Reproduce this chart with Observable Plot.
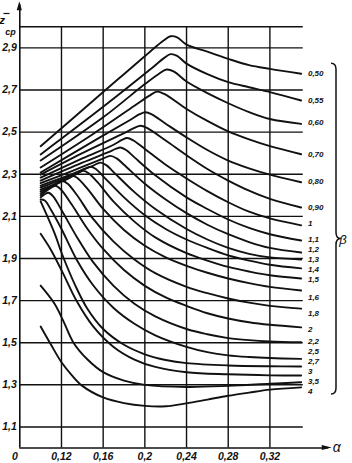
<!DOCTYPE html>
<html><head><meta charset="utf-8">
<script src="https://cdn.jsdelivr.net/npm/d3@7"></script>
<script src="https://cdn.jsdelivr.net/npm/@observablehq/plot@0.6"></script>
<style>html,body{margin:0;padding:0;background:#fff;}</style>
</head><body><div id="chart"></div>
<script>
// β labels (right side), in the same order as the curves below
const betaLabels = ["0,50","0,55","0,60","0,70","0,80","0,90","1","1,1","1,2","1,3","1,4","1,5","1,6","1,8","2","2,2","2,5","2,7","3","3,5","4"];

// curves: [α, z̄ср] points
const c050 = [[0.10,2.433],[0.16,2.69],[0.205,2.882],[0.218,2.935],[0.2246,2.955],[0.231,2.95],[0.24,2.915],[0.26,2.882],[0.28,2.848],[0.30,2.818],[0.32,2.80],[0.35,2.777]];
const c055 = [[0.10,2.394],[0.16,2.62],[0.205,2.797],[0.218,2.85],[0.2246,2.87],[0.231,2.862],[0.24,2.825],[0.26,2.775],[0.28,2.737],[0.30,2.713],[0.32,2.69],[0.35,2.65]];
const c060 = [[0.10,2.365],[0.16,2.57],[0.20,2.728],[0.213,2.775],[0.2208,2.797],[0.228,2.787],[0.24,2.74],[0.26,2.685],[0.28,2.637],[0.30,2.595],[0.32,2.562],[0.35,2.539]];
const c070 = [[0.10,2.332],[0.15,2.49],[0.19,2.625],[0.204,2.672],[0.2118,2.692],[0.219,2.68],[0.24,2.61],[0.26,2.553],[0.28,2.503],[0.30,2.465],[0.32,2.433],[0.35,2.395]];
const c080 = [[0.10,2.308],[0.15,2.455],[0.185,2.555],[0.195,2.585],[0.2006,2.594],[0.207,2.583],[0.22,2.54],[0.24,2.475],[0.26,2.415],[0.28,2.365],[0.30,2.328],[0.32,2.298],[0.35,2.262]];
const c090 = [[0.10,2.298],[0.14,2.40],[0.18,2.495],[0.19,2.52],[0.1958,2.53],[0.202,2.52],[0.22,2.46],[0.24,2.39],[0.26,2.325],[0.28,2.27],[0.30,2.222],[0.32,2.183],[0.35,2.142]];
const c100 = [[0.10,2.284],[0.14,2.375],[0.17,2.44],[0.178,2.463],[0.183,2.472],[0.189,2.46],[0.20,2.42],[0.22,2.345],[0.24,2.28],[0.26,2.22],[0.28,2.167],[0.30,2.122],[0.32,2.09],[0.35,2.057]];
const c110 = [[0.10,2.27],[0.14,2.355],[0.165,2.405],[0.172,2.42],[0.1766,2.427],[0.182,2.415],[0.19,2.38],[0.21,2.295],[0.24,2.19],[0.26,2.135],[0.28,2.085],[0.30,2.045],[0.32,2.015],[0.35,1.985]];
const c120 = [[0.10,2.258],[0.13,2.315],[0.158,2.37],[0.167,2.387],[0.173,2.375],[0.18,2.345],[0.20,2.255],[0.22,2.18],[0.24,2.115],[0.26,2.06],[0.28,2.015],[0.30,1.978],[0.32,1.95],[0.35,1.928]];
const c130 = [[0.10,2.246],[0.13,2.30],[0.15,2.34],[0.1574,2.355],[0.163,2.343],[0.17,2.31],[0.19,2.215],[0.21,2.135],[0.24,2.04],[0.26,1.99],[0.28,1.95],[0.30,1.922],[0.32,1.905],[0.35,1.895]];
const c140 = [[0.10,2.237],[0.125,2.285],[0.142,2.325],[0.148,2.335],[0.153,2.325],[0.16,2.29],[0.18,2.19],[0.20,2.105],[0.22,2.04],[0.24,1.99],[0.26,1.95],[0.28,1.915],[0.30,1.89],[0.32,1.87],[0.35,1.853]];
const c150 = [[0.10,2.227],[0.125,2.275],[0.136,2.305],[0.141,2.316],[0.146,2.305],[0.155,2.26],[0.17,2.17],[0.19,2.075],[0.21,2.0],[0.24,1.925],[0.26,1.89],[0.28,1.86],[0.30,1.838],[0.32,1.82],[0.35,1.805]];
const c160 = [[0.10,2.218],[0.118,2.26],[0.126,2.283],[0.1306,2.292],[0.135,2.283],[0.145,2.23],[0.16,2.135],[0.18,2.035],[0.20,1.96],[0.22,1.905],[0.24,1.865],[0.26,1.832],[0.28,1.805],[0.30,1.783],[0.32,1.765],[0.35,1.748]];
const c180 = [[0.10,2.208],[0.113,2.25],[0.121,2.268],[0.126,2.255],[0.135,2.2],[0.15,2.09],[0.17,1.98],[0.19,1.895],[0.21,1.83],[0.24,1.765],[0.26,1.735],[0.28,1.71],[0.30,1.69],[0.32,1.675],[0.35,1.662]];
const c200 = [[0.10,2.199],[0.109,2.232],[0.1142,2.245],[0.119,2.23],[0.13,2.155],[0.145,2.04],[0.16,1.945],[0.18,1.845],[0.20,1.77],[0.22,1.715],[0.24,1.675],[0.26,1.64],[0.28,1.615],[0.30,1.597],[0.32,1.585],[0.35,1.573]];
const c220 = [[0.10,2.19],[0.104,2.205],[0.1075,2.212],[0.112,2.195],[0.12,2.13],[0.135,2.0],[0.15,1.885],[0.17,1.77],[0.19,1.685],[0.21,1.625],[0.24,1.565],[0.26,1.54],[0.28,1.522],[0.30,1.512],[0.32,1.506],[0.35,1.502]];
const c250 = [[0.10,2.18],[0.104,2.175],[0.11,2.13],[0.12,2.04],[0.135,1.89],[0.15,1.775],[0.17,1.665],[0.19,1.59],[0.21,1.535],[0.24,1.48],[0.26,1.455],[0.28,1.44],[0.30,1.432],[0.32,1.427],[0.35,1.423]];
const c270 = [[0.10,2.171],[0.1135,2.018],[0.1206,1.92],[0.1334,1.77],[0.145,1.66],[0.16,1.565],[0.18,1.49],[0.20,1.445],[0.22,1.418],[0.24,1.403],[0.28,1.392],[0.32,1.388],[0.35,1.387]];
const c300 = [[0.10,2.017],[0.1103,1.937],[0.1215,1.829],[0.1343,1.70],[0.15,1.58],[0.17,1.48],[0.19,1.42],[0.21,1.385],[0.24,1.36],[0.28,1.35],[0.32,1.345],[0.35,1.344]];
const c350 = [[0.10,1.771],[0.1132,1.686],[0.1216,1.605],[0.1315,1.50],[0.145,1.42],[0.16,1.36],[0.18,1.32],[0.20,1.30],[0.24,1.29],[0.28,1.295],[0.32,1.305],[0.35,1.312]];
const c400 = [[0.10,1.577],[0.11,1.49],[0.12,1.407],[0.13,1.345],[0.14,1.295],[0.16,1.24],[0.18,1.213],[0.20,1.20],[0.22,1.198],[0.24,1.212],[0.26,1.23],[0.28,1.248],[0.30,1.263],[0.32,1.277],[0.35,1.288]];
const curves = [c050,c055,c060,c070,c080,c090,c100,c110,c120,c130,c140,c150,c160,c180,c200,c220,c250,c270,c300,c350,c400];

// where each β label sits on the z̄ср scale
const labelAt = [2.777,2.650,2.546,2.395,2.267,2.142,2.064,1.992,1.945,1.897,1.850,1.802,1.717,1.638,1.561,1.506,1.458,1.411,1.363,1.316,1.268];

// axis ticks
const xTicks = [0.12,0.16,0.20,0.24,0.28,0.32];
const xTickLabels = ["0,12","0,16","0,2","0,24","0,28","0,32"];
const yTicks = [2.9,2.7,2.5,2.3,2.1,1.9,1.7,1.5,1.3,1.1];
const yTickLabels = ["2,9","2,7","2,5","2,3","2,1","1,9","1,7","1,5","1,3","1,1"];

const font = "Liberation Sans";
const rows = curves.flatMap((c, i) => c.map(([a, v]) => ({beta: betaLabels[i], a, v})));
const labelRows = betaLabels.map((t, i) => ({text: t, v: labelAt[i]}));

const aMin = 0.08, aMax = 0.352, vMin = 1.0, vTop = 3.0;

const chart = Plot.plot({
  width: 352, height: 463, margin: 0,
  x: {domain: [0.08, 0.32], range: [19.3, 269.4], axis: null},
  y: {domain: [1.0, 3.0], range: [447.5, 26.3], axis: null},
  style: {background: "white", fontFamily: font},
  marks: [
    Plot.ruleY([...yTicks, vTop], {x1: aMin, x2: aMax, stroke: "#111", strokeWidth: 1.4}),
    Plot.ruleX(xTicks, {y1: vMin, y2: vTop, stroke: "#111", strokeWidth: 1.4}),
    Plot.ruleX([aMin], {y1: vMin, y2: 3.105, stroke: "#111", strokeWidth: 1.6}),
    Plot.ruleY([vMin], {x1: aMin, x2: 0.376, stroke: "#111", strokeWidth: 1.6}),
    Plot.line(rows, {x: "a", y: "v", z: "beta", curve: "catmull-rom", stroke: "#111", strokeWidth: 1.9}),
    Plot.text(labelRows, {x: 0.3565, y: "v", text: "text", textAnchor: "start", fontSize: 8, fontStyle: "italic", fontWeight: "bold", fill: "#111"}),
    Plot.text(yTicks, {x: aMin, y: d => d, text: (d, i) => yTickLabels[i], dx: -3, textAnchor: "end", fontSize: 10.5, fontStyle: "italic", fontWeight: "bold", fill: "#111"}),
    Plot.text(xTicks, {x: d => d, y: vMin, text: (d, i) => xTickLabels[i], dy: 9, fontSize: 10.5, fontStyle: "italic", fontWeight: "bold", fill: "#111"}),
    Plot.text(["0"], {x: aMin, y: vMin, text: d => d, dx: -5, dy: 9, fontSize: 10.5, fontStyle: "italic", fontWeight: "bold", fill: "#111"})
  ]
});

document.getElementById("chart").appendChild(chart);

// decorations: arrows, brace, axis names
const sx = chart.scale("x"), sy = chart.scale("y");
const svg = d3.select(chart);
const X0 = sx.apply(aMin), Y0 = sy.apply(vMin);
const yTopPx = sy.apply(3.105), xEndPx = sx.apply(0.376);
svg.append("path").attr("d", `M${X0},${yTopPx-3} L${X0-2.6},${yTopPx+6} L${X0+2.6},${yTopPx+6} Z`).attr("fill", "#111");
svg.append("path").attr("d", `M${xEndPx+4},${Y0} L${xEndPx-6},${Y0-2.6} L${xEndPx-6},${Y0+2.6} Z`).attr("fill", "#111");
svg.append("text").attr("x", xEndPx + 9).attr("y", Y0 + 4).attr("font-family", font).attr("font-size", 14).attr("font-style", "italic").attr("fill", "#111").text("α");
// y axis name: z̄ ср (z with a bar, subscript ср)
svg.append("text").attr("x", 2).attr("y", 24).attr("font-family", font).attr("font-size", 11.5).attr("font-style", "italic").attr("font-weight", "bold").attr("fill", "#111").text("z");
svg.append("line").attr("x1", 3.5).attr("x2", 9.5).attr("y1", 13.5).attr("y2", 13.5).attr("stroke", "#111").attr("stroke-width", 1.2);
svg.append("text").attr("x", 10.5).attr("y", 35).attr("font-family", font).attr("font-size", 9).attr("font-style", "italic").attr("font-weight", "bold").attr("fill", "#111").text("ср");
// brace for β
const bT = sy.apply(labelAt[0]) - 10, bB = sy.apply(labelAt[labelAt.length-1]) + 3, bM = bT + 0.53 * (bB - bT);
const bx = 336;
svg.append("path").attr("d", `M${bx-5},${bT} Q${bx},${bT} ${bx},${bT+6} L${bx},${bM-6} Q${bx},${bM} ${bx+5},${bM} Q${bx},${bM} ${bx},${bM+6} L${bx},${bB-6} Q${bx},${bB} ${bx-5},${bB}`)
  .attr("fill", "none").attr("stroke", "#111").attr("stroke-width", 1.5);
svg.append("text").attr("x", bx + 7).attr("y", bM + 5).attr("font-family", font).attr("font-size", 13).attr("font-style", "italic").attr("fill", "#111").text("β");
</script>
</body></html>
